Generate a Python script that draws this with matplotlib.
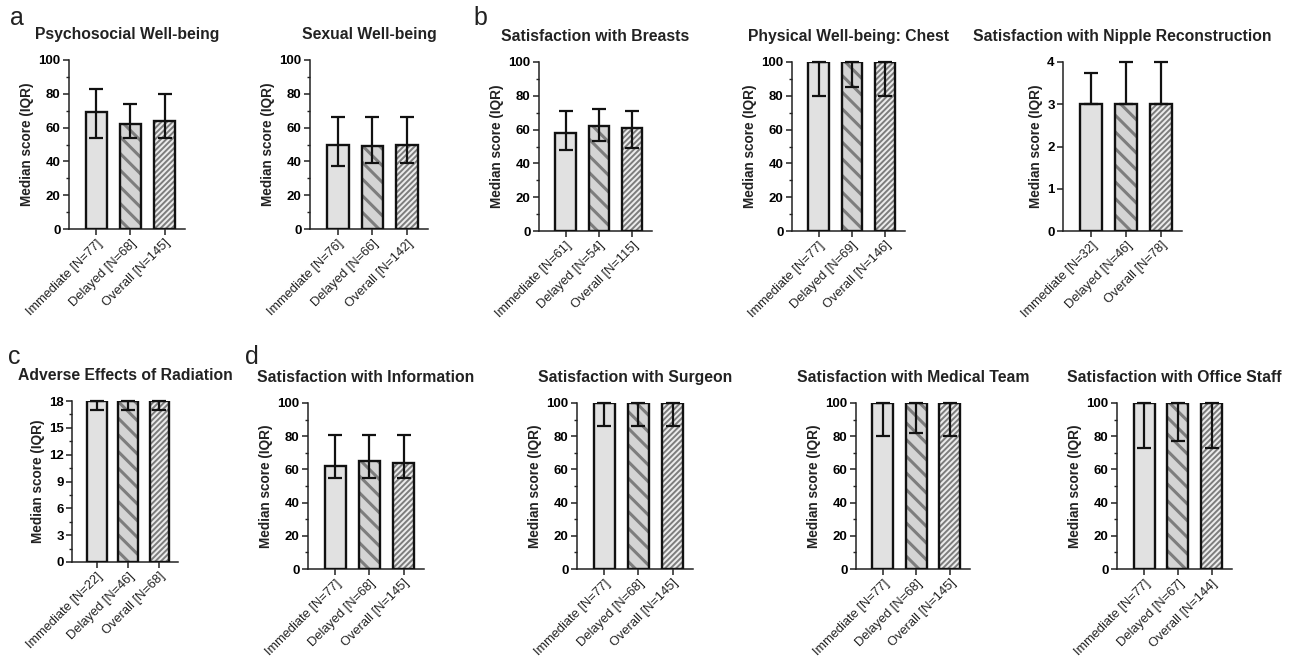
import numpy as np
import matplotlib.pyplot as plt
from matplotlib.ticker import MultipleLocator

plt.rcParams['font.family'] = ['Liberation Sans', 'DejaVu Sans']

W, H = 1293, 663

groups = ['Immediate', 'Delayed', 'Overall']

titles = ['Psychosocial Well-being', 'Sexual Well-being', 'Satisfaction with Breasts',
          'Physical Well-being: Chest', 'Satisfaction with Nipple Reconstruction',
          'Adverse Effects of Radiation', 'Satisfaction with Information',
          'Satisfaction with Surgeon', 'Satisfaction with Medical Team',
          'Satisfaction with Office Staff']

n_counts = [[77, 68, 145], [76, 66, 142], [61, 54, 115], [77, 69, 146], [32, 46, 78],
            [22, 46, 68], [77, 68, 145], [77, 68, 145], [77, 68, 145], [77, 67, 144]]

medians = [[69, 62, 64], [50, 49, 50], [58, 62, 61], [100, 100, 100], [3, 3, 3],
           [18, 18, 18], [62, 65, 64], [100, 100, 100], [100, 100, 100], [100, 100, 100]]

q1 = [[54, 54, 54], [37, 39, 39], [48, 53, 49], [80, 85, 80], [3, 3, 3],
      [17, 17, 17], [55, 55, 55], [86, 86, 86], [80, 82, 80], [73, 77, 73]]

q3 = [[83, 74, 80], [66, 66, 66], [71, 72, 71], [100, 100, 100], [3.75, 4, 4],
      [18, 18, 18], [81, 81, 81], [100, 100, 100], [100, 100, 100], [100, 100, 100]]

y_max = [100, 100, 100, 100, 4, 18, 100, 100, 100, 100]
y_step = [20, 20, 20, 20, 1, 3, 20, 20, 20, 20]
y_minor = [10, 10, 10, 10, None, 1.5, 10, 10, 10, 10]

# axes boxes in pixels: left, top, right, bottom
boxes = [(69, 60, 185, 229), (310, 60, 428, 229), (539, 62, 652, 231),
         (792, 62, 905, 231), (1063, 62, 1182, 231), (72, 401, 178, 562),
         (308, 403, 424, 569), (577, 403, 693, 569), (856, 403, 970, 569),
         (1117, 403, 1232, 569)]

fills = ['#e1e1e1', '#d4d4d4', '#ececec']
hatches = [None, '\\\\', '//////']
hatch_lw = [0, 2.2, 1.4]

fig = plt.figure(figsize=(W / 100, H / 100), dpi=100)

for i in range(10):
    l, t, r, b = boxes[i]
    ax = fig.add_axes([l / W, 1 - b / H, (r - l) / W, (b - t) / H])
    x = np.arange(3)
    med = np.array(medians[i], dtype=float)
    lo = med - np.array(q1[i])
    hi = np.array(q3[i]) - med

    for j in range(3):
        with plt.rc_context({'hatch.linewidth': max(hatch_lw[j], 0.1)}):
            bb = ax.bar(x[j], med[j], width=0.62, color=fills[j], edgecolor='#7d7d7d',
                        linewidth=0, hatch=hatches[j], zorder=2)
        for p in bb:
            if hasattr(p, 'set_hatch_linewidth'):
                p.set_hatch_linewidth(max(hatch_lw[j], 0.1))
    ax.bar(x, med, width=0.62, facecolor='none', edgecolor='#111111', linewidth=1.7, zorder=3)
    eb = ax.errorbar(x, med, yerr=[lo, hi], fmt='none', ecolor='#111111', elinewidth=1.6,
                     capsize=5, capthick=1.6, zorder=4)
    for art in eb.get_children():
        art.set_clip_on(False)

    ax.set_xlim(-0.8, 2.6)
    ax.set_ylim(0, y_max[i])
    ax.yaxis.set_major_locator(MultipleLocator(y_step[i]))
    if y_minor[i]:
        ax.yaxis.set_minor_locator(MultipleLocator(y_minor[i]))
    for s in ['top', 'right']:
        ax.spines[s].set_visible(False)
    for s in ['left', 'bottom']:
        ax.spines[s].set_linewidth(1.1)
        ax.spines[s].set_color('#222222')
    ax.tick_params(axis='y', which='major', length=4, width=1.1, color='#222222', pad=2,
                   labelsize=9.5)
    ax.tick_params(axis='y', which='minor', length=2.5, width=1.0, color='#222222')
    ax.tick_params(axis='x', length=4, width=1.1, color='#222222', pad=2, labelsize=9.3)
    for lab in ax.get_yticklabels():
        lab.set_fontweight('bold')
    ax.set_xticks(x)
    ax.set_xticklabels(['%s [N=%d]' % (g, n) for g, n in zip(groups, n_counts[i])],
                       rotation=45, ha='right', rotation_mode='anchor', color='#222222')
    ax.set_ylabel('Median score (IQR)', fontsize=9.8, fontweight='bold', color='#222222',
                  labelpad=3)
    ax.set_title(titles[i], fontsize=11.3, fontweight='bold', color='#222222', pad=15)

fig.text(10 / W, 1 - 18 / H, 'a', fontsize=18, va='center', color='#222222')
fig.text(473 / W, 1 - 18 / H, 'b', fontsize=18, va='center', color='#222222')
fig.text(8 / W, 1 - 357 / H, 'c', fontsize=18, va='center', color='#222222')
fig.text(245 / W, 1 - 357 / H, 'd', fontsize=18, va='center', color='#222222')

fig.savefig('out.png', dpi=100, facecolor='white')
